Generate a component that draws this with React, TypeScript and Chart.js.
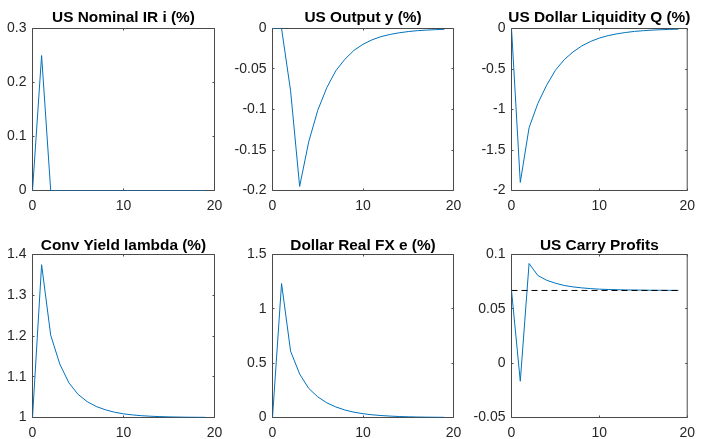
import React, { useEffect, useRef } from "react";
import { Chart, registerables } from "chart.js";

Chart.register(...registerables);

// ---- data ----
const periods = [0, 1, 2, 3, 4, 5, 6, 7, 8, 9, 10, 11, 12, 13, 14, 15, 16, 17, 18, 19];
const periodTicks = [0, 10, 20];

const nominalRate = [0, 0.25, 0, 0, 0, 0, 0, 0, 0, 0, 0, 0, 0, 0, 0, 0, 0, 0, 0, 0];
const nominalTicks = [0, 0.1, 0.2, 0.3];

const outputGap = [0, 0, -0.077, -0.195, -0.14, -0.101, -0.073, -0.052, -0.038, -0.027, -0.0195, -0.014, -0.01, -0.0073, -0.0053, -0.0038, -0.0027, -0.002, -0.0014, -0.001];
const outputTicks = [-0.2, -0.15, -0.1, -0.05, 0];

const dollarLiquidity = [0, -1.9, -1.225, -0.925, -0.7, -0.515, -0.385, -0.29, -0.215, -0.16, -0.118, -0.088, -0.066, -0.049, -0.036, -0.027, -0.02, -0.015, -0.011, -0.008];
const liquidityTicks = [-2, -1.5, -1, -0.5, 0];

const convYield = [1.0, 1.375, 1.202, 1.131, 1.085, 1.057, 1.039, 1.027, 1.019, 1.013, 1.009, 1.0063, 1.0044, 1.0031, 1.0022, 1.0015, 1.0011, 1.0007, 1.0005, 1.0004];
const convTicks = [1, 1.1, 1.2, 1.3, 1.4];

const realFx = [0, 1.233, 0.61, 0.4, 0.268, 0.19, 0.135, 0.097, 0.069, 0.049, 0.035, 0.025, 0.018, 0.013, 0.009, 0.0065, 0.0046, 0.0033, 0.0024, 0.0017];
const fxTicks = [0, 0.5, 1, 1.5];

const carryProfits = [0.0669, -0.0166, 0.0917, 0.0807, 0.0763, 0.0736, 0.0715, 0.0702, 0.0693, 0.0686, 0.0681, 0.0678, 0.0676, 0.0674, 0.0673, 0.0672, 0.0671, 0.0671, 0.067, 0.067];
const carrySteadyState = 0.0669;
const carryTicks = [-0.05, 0, 0.05, 0.1];

// ---- layout / style ----
const W = 702;
const H = 439;
const BLUE = "#0072BD";
const AXIS = "#4a4a4a";
const TEXT = "#262626";
const FONT = "'Liberation Sans', Arial, Helvetica, sans-serif";

type Panel = {
  title: string;
  values: number[];
  ticks: number[];
  steady?: number;
  box: [number, number, number, number]; // left, top, right, bottom
  titleGap: number;
};

const panels: Panel[] = [
  { title: "US Nominal IR i (%)", values: nominalRate, ticks: nominalTicks, box: [32.5, 28.5, 214.5, 190.5], titleGap: 7 },
  { title: "US Output y (%)", values: outputGap, ticks: outputTicks, box: [272.5, 28.5, 453.5, 190.5], titleGap: 7 },
  { title: "US Dollar Liquidity Q (%)", values: dollarLiquidity, ticks: liquidityTicks, box: [511.5, 28.5, 692.5, 190.5], titleGap: 7 },
  { title: "Conv Yield lambda (%)", values: convYield, ticks: convTicks, box: [32.5, 254.5, 214.5, 417.5], titleGap: 5 },
  { title: "Dollar Real FX e (%)", values: realFx, ticks: fxTicks, box: [272.5, 254.5, 453.5, 417.5], titleGap: 5 },
  { title: "US Carry Profits", values: carryProfits, ticks: carryTicks, steady: carrySteadyState, box: [511.5, 254.5, 692.5, 417.5], titleGap: 5 },
];

const matlabAxes = {
  id: "matlabAxes",
  beforeDatasetsDraw(chart: any, _args: any, opts: any) {
    const { ctx, chartArea: a, scales } = chart;
    const tl = 2;
    ctx.save();
    ctx.strokeStyle = AXIS;
    ctx.lineWidth = 1;
    ctx.beginPath();
    ctx.rect(a.left, a.top, a.right - a.left, a.bottom - a.top);
    for (const t of scales.x.ticks) {
      const px = Math.round(scales.x.getPixelForValue(t.value) - 0.5) + 0.5;
      ctx.moveTo(px, a.bottom);
      ctx.lineTo(px, a.bottom - tl);
      ctx.moveTo(px, a.top);
      ctx.lineTo(px, a.top + tl);
    }
    for (const t of scales.y.ticks) {
      const py = Math.round(scales.y.getPixelForValue(t.value) - 0.5) + 0.5;
      ctx.moveTo(a.left, py);
      ctx.lineTo(a.left + tl, py);
      ctx.moveTo(a.right, py);
      ctx.lineTo(a.right - tl, py);
    }
    ctx.stroke();
    // title
    ctx.fillStyle = "#000";
    ctx.font = `bold 15.4px ${FONT}`;
    ctx.textAlign = "center";
    ctx.textBaseline = "alphabetic";
    ctx.fillText(opts.title, (a.left + a.right) / 2, a.top - opts.gap);
    ctx.restore();
  },
};

function PanelChart({ panel }: { panel: Panel }) {
  const ref = useRef<HTMLCanvasElement | null>(null);
  useEffect(() => {
    if (!ref.current) return;
    const [L, T, R, B] = panel.box;
    const datasets: any[] = [];
    if (panel.steady !== undefined) {
      datasets.push({
        data: [
          { x: periods[0], y: panel.steady },
          { x: periods[periods.length - 1], y: panel.steady },
        ],
        borderColor: "#000",
        borderWidth: 1,
        borderDash: [6, 4],
        pointRadius: 0,
        tension: 0,
      });
    }
    datasets.push({
      data: periods.map((p, i) => ({ x: p, y: panel.values[i] })),
      borderColor: BLUE,
      borderWidth: 1,
      pointRadius: 0,
      tension: 0,
    });
    const tickFont = { family: FONT, size: 14 };
    const chart = new Chart(ref.current, {
      type: "line",
      data: { datasets },
      plugins: [matlabAxes],
      options: {
        responsive: false,
        animation: false,
        events: [],
        layout: { padding: { left: 1, top: T, right: W - R, bottom: 1 } },
        plugins: {
          legend: { display: false },
          tooltip: { enabled: false },
          title: { display: false },
          matlabAxes: { title: panel.title, gap: panel.titleGap },
        } as any,
        scales: {
          x: {
            type: "linear",
            min: periodTicks[0],
            max: periodTicks[periodTicks.length - 1],
            afterBuildTicks: (s: any) => {
              s.ticks = periodTicks.map((v) => ({ value: v }));
            },
            afterFit: (s: any) => {
              s.height = H - B - 1;
            },
            grid: { display: false, drawTicks: false },
            border: { display: false },
            ticks: {
              color: TEXT,
              font: tickFont,
              padding: 7,
              maxRotation: 0,
              autoSkip: false,
              callback: (v: any) => String(v),
            },
          },
          y: {
            type: "linear",
            min: panel.ticks[0],
            max: panel.ticks[panel.ticks.length - 1],
            afterBuildTicks: (s: any) => {
              s.ticks = panel.ticks.map((v) => ({ value: v }));
            },
            afterFit: (s: any) => {
              s.width = L - 1;
            },
            grid: { display: false, drawTicks: false },
            border: { display: false },
            ticks: {
              color: TEXT,
              font: tickFont,
              padding: 6,
              autoSkip: false,
              callback: (v: any) => String(v),
            },
          },
        },
      } as any,
    });
    return () => chart.destroy();
  }, [panel]);
  return (
    <canvas
      ref={ref}
      width={W}
      height={H}
      style={{ position: "absolute", left: 0, top: 0, width: W, height: H }}
    />
  );
}

export default function App() {
  return (
    <div style={{ position: "absolute", left: 0, top: 0, width: W, height: H, background: "#fff", overflow: "hidden" }}>
      {panels.map((p) => (
        <PanelChart key={p.title} panel={p} />
      ))}
    </div>
  );
}
